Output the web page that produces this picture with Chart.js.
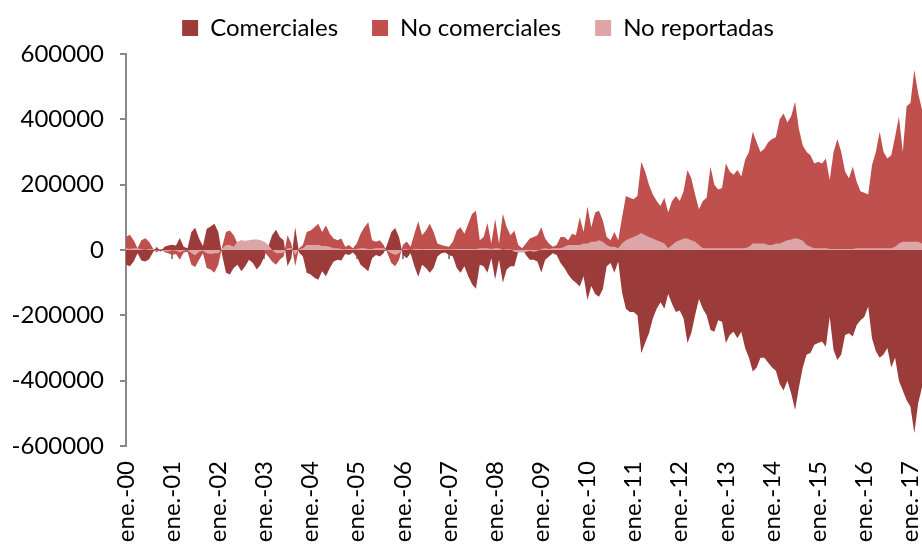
<!DOCTYPE html>
<html>
<head>
<meta charset="utf-8">
<script src="https://cdn.jsdelivr.net/npm/chart.js@4.4.1/dist/chart.umd.min.js"></script>
<style>
    html, body { margin: 0; padding: 0; background: #fff; }
    #wrap { width: 922px; height: 545px; }
</style>
</head>
<body>
<div id="wrap"><canvas id="chart" width="922" height="545"></canvas></div>
<script>
// Posiciones netas, valores en miles de contratos (mensual, ene.-00 a abr.-17)
var years = ['00','01','02','03','04','05','06','07','08','09','10','11','12','13','14','15','16','17'];
var months = ['ene.','feb.','mar.','abr.','may.','jun.','jul.','ago.','sept.','oct.','nov.','dic.'];

var comerciales = [
    -45,-50,-35,-10,-32,-35,-28,-8,10,-5,10,14,
    16,14,37,10,5,55,68,35,12,65,72,80,
    55,-15,-70,-75,-55,-45,-65,-50,-30,-40,-60,-45,
    -20,10,45,62,40,30,-50,-25,70,-8,-20,-70,
    -75,-85,-91,-65,-80,-55,-35,-30,-32,-12,-15,-8,
    -20,-45,-55,-65,-25,-15,-20,-10,20,55,67,40,
    -15,-25,-10,-50,-82,-45,-55,-70,-55,-20,-10,-8,
    -15,-20,-55,-70,-50,-80,-105,-119,-45,-50,-70,-25,
    -90,-30,-100,-60,-50,-50,-5,5,-15,-30,-30,-35,
    -69,-30,-20,-10,-15,-40,-55,-75,-90,-100,-112,-80,
    -153,-110,-135,-143,-120,-50,-40,-70,-35,-130,-180,-190,
    -190,-200,-316,-285,-255,-210,-180,-160,-180,-135,-165,-190,
    -185,-210,-285,-255,-200,-150,-180,-200,-245,-250,-215,-220,
    -285,-260,-250,-270,-250,-300,-330,-372,-360,-330,-330,-345,
    -360,-370,-410,-430,-400,-440,-490,-420,-360,-320,-315,-290,
    -285,-280,-296,-204,-306,-337,-320,-260,-255,-265,-230,-215,
    -205,-173,-270,-310,-330,-320,-300,-360,-330,-400,-430,-460,
    -480,-561,-470,-420
];
var noComerciales = [
    40,47,30,5,30,36,25,5,-8,3,-6,-10,
    -15,-12,-30,-8,-5,-45,-52,-30,-10,-55,-60,-70,
    -45,10,55,60,45,20,30,20,0,5,15,10,
    -5,-20,-35,-45,-30,-20,45,20,-50,5,15,55,
    60,70,80,55,75,50,35,30,35,10,15,5,
    20,50,70,85,30,25,30,15,-10,-40,-50,-30,
    15,26,10,50,88,45,60,80,55,20,15,12,
    10,25,60,70,50,80,110,120,30,40,83,20,
    95,20,111,70,45,60,15,5,20,35,40,45,
    70,35,20,10,15,40,40,30,50,45,100,55,
    133,70,115,120,90,40,30,55,30,100,165,160,
    155,165,270,240,200,170,150,135,160,115,150,165,
    150,180,245,220,170,125,150,160,255,200,185,190,
    265,240,230,245,225,276,300,362,330,300,310,330,
    340,345,400,418,390,410,454,370,320,300,290,265,
    270,265,280,214,300,340,300,240,220,255,210,180,
    175,170,260,300,362,300,280,290,347,408,300,440,
    450,551,480,430
];
var noReportadas = [
    5,3,5,5,2,0,3,3,-2,2,-4,-4,
    -1,-2,-7,-2,0,-10,-16,-5,-2,-10,-12,-10,
    -10,5,15,15,10,25,30,28,30,32,32,30,
    25,15,0,-10,-10,-8,5,5,-15,2,5,15,
    15,15,16,12,12,10,5,5,3,2,3,2,
    3,5,5,3,3,5,5,5,-3,-10,-15,-10,
    2,2,0,3,3,2,3,3,3,3,3,2,
    2,2,3,3,3,3,3,2,5,5,5,3,
    5,5,0,2,2,-5,-8,-8,-5,-3,-5,-3,
    3,5,3,5,5,5,10,15,15,15,15,20,
    20,25,25,30,25,15,10,10,5,20,30,35,
    40,45,52,45,40,35,30,25,20,5,15,25,
    30,35,35,30,25,15,5,5,5,5,5,5,
    5,5,5,5,5,5,10,20,20,20,20,15,
    15,20,20,25,30,32,36,34,28,15,10,5,
    5,5,5,3,3,3,3,3,3,3,5,5,
    5,5,5,5,5,5,5,5,10,20,25,25,
    25,25,25,20
];
var yTicks = [-600000, -400000, -200000, 0, 200000, 400000, 600000];

var GRAY = '#898989';
var labels = [];
years.forEach(function(y) {
    months.forEach(function(m) {
        if (labels.length < comerciales.length) labels.push(m + '-' + y);
    });
});

function thousands(arr) {
    return arr.map(function(v) { return v * 1000; });
}

function areaSet(label, values, color, order) {
    return {
        label: label,
        data: thousands(values),
        backgroundColor: color,
        borderColor: 'rgba(0,0,0,0)',
        borderWidth: 0,
        pointRadius: 0,
        tension: 0,
        fill: 'origin',
        order: order
    };
}

// the legend is centred over the padded width; give the y labels the full left margin back
var layoutFix = {
    id: 'layoutFix',
    afterLayout: function(chart) {
        chart.scales.y.left = 0;
        chart.legend.top -= 4;
        chart.legend.bottom -= 4;
    }
};

Chart.defaults.font.family = 'Lato, "Open Sans", sans-serif';
Chart.defaults.color = '#000';

new Chart(document.getElementById('chart'), {
    type: 'line',
    data: {
        labels: labels,
        datasets: [
            areaSet('Comerciales', comerciales, '#9B3C3B', 2),
            areaSet('No comerciales', noComerciales, '#C0504D', 1),
            areaSet('No reportadas', noReportadas, '#DBA6A5', 0)
        ]
    },
    plugins: [layoutFix],
    options: {
        responsive: false,
        animation: false,
        devicePixelRatio: 1,
        layout: { padding: { top: -19, right: 0, bottom: 0, left: 34 } },
        plugins: {
            tooltip: { enabled: false },
            legend: {
                position: 'top',
                labels: {
                    boxWidth: 16,
                    boxHeight: 16,
                    padding: 34,
                    font: { size: 24 },
                    color: '#000',
                    sort: function(a, b) { return a.datasetIndex - b.datasetIndex; }
                }
            }
        },
        scales: {
            x: {
                type: 'category',
                position: 'bottom',
                grid: { display: false, drawTicks: false },
                border: { display: false },
                ticks: {
                    autoSkip: false,
                    minRotation: 90,
                    maxRotation: 90,
                    padding: 15,
                    font: { size: 24 },
                    color: '#000',
                    callback: function(v, i) { return i % 12 === 0 ? this.getLabelForValue(v) : ''; }
                },
                afterFit: function(s) { s.height = 99; s.paddingLeft = 0; s.paddingRight = 0; }
            },
            x2: {
                type: 'category',
                position: { y: 0 },
                z: 1,
                ticks: { display: false },
                grid: {
                    drawOnChartArea: false,
                    tickLength: 8,
                    lineWidth: 2,
                    color: function(c) { return c.index % 12 === 0 ? GRAY : 'rgba(0,0,0,0)'; }
                },
                border: { color: GRAY, width: 2 },
                afterFit: function(s) { s.paddingLeft = 0; s.paddingRight = 0; }
            },
            y: {
                min: yTicks[0],
                max: yTicks[yTicks.length - 1],
                afterBuildTicks: function(s) { s.ticks = yTicks.map(function(v) { return { value: v }; }); },
                ticks: {
                    padding: 16,
                    font: { size: 24 },
                    color: '#000',
                    callback: function(v) { return String(v); }
                },
                grid: { drawOnChartArea: false, tickLength: 6, color: GRAY, lineWidth: 2 },
                border: { color: GRAY, width: 2 },
                afterFit: function(s) { s.width = 92; s.paddingTop = 54; }
            }
        }
    }
});
</script>
</body>
</html>
